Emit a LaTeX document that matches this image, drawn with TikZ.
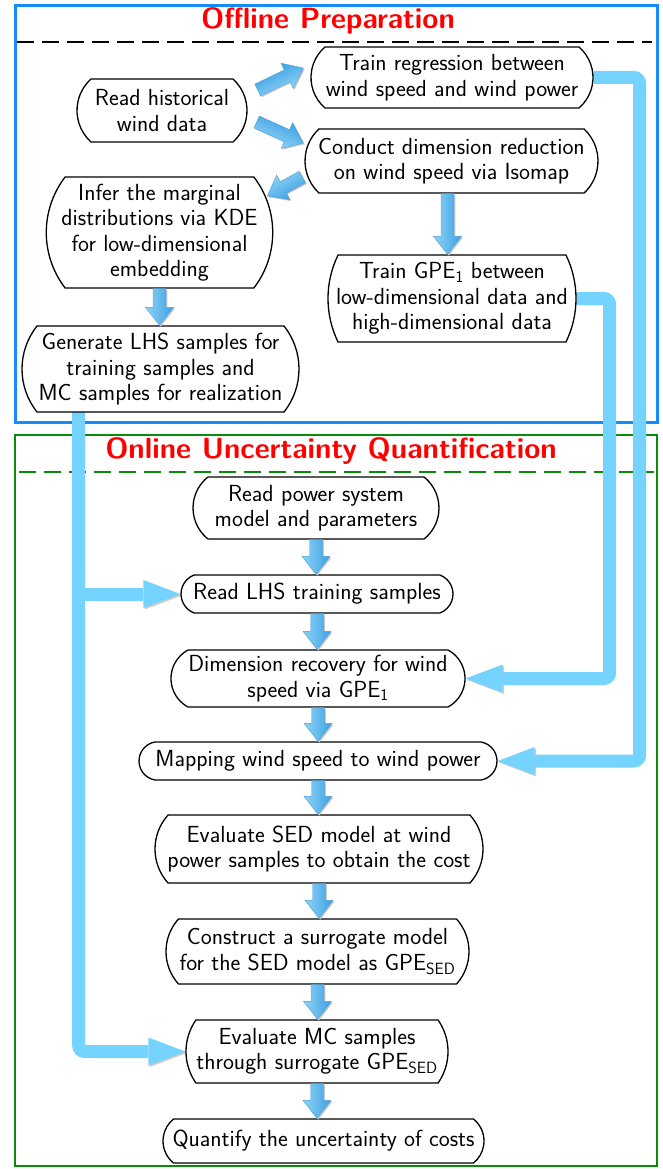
\documentclass[tikz,border=0pt]{standalone}
\usetikzlibrary{shapes.misc,arrows.meta,calc}
\definecolor{frameblue}{RGB}{20,140,250}
\definecolor{framegreen}{RGB}{10,140,10}
\definecolor{lineblue}{RGB}{117,211,255}
\definecolor{arrlight}{RGB}{140,212,246}
\definecolor{arrdark}{RGB}{62,160,226}
\definecolor{arredge}{RGB}{80,160,215}
\definecolor{titlered}{RGB}{255,0,0}
\pgfdeclarelayer{bg}\pgfdeclarelayer{mid}\pgfsetlayers{bg,mid,main}

\newcommand\fatarrow[2]{%
  \path let \p1=(#1), \p2=(#2), \n1={atan2(\y2-\y1,\x2-\x1)}, \n2={veclen(\x2-\x1,\y2-\y1)} in
    \pgfextra{\xdef\faang{\n1}\xdef\falen{\n2}\xdef\fax{\x1}\xdef\fay{\y1}};
  \begin{scope}[transform canvas={shift={({\fax+1.3pt},{\fay-1.3pt})},rotate=\faang}]
    \fill[black!22] (0,-6.5) -- ({\falen-18},-6.5) -- ({\falen-18},-14) -- (\falen,0) -- ({\falen-18},14) -- ({\falen-18},6.5) -- (0,6.5) -- cycle;
  \end{scope}
  \begin{scope}[transform canvas={shift={(\fax,\fay)},rotate=\faang}]
    \shade[top color=arrdark,bottom color=arrlight,draw=arredge,line width=0.4pt] (0,-6.5) -- ({\falen-18},-6.5) -- ({\falen-18},-14) -- (\falen,0) -- ({\falen-18},14) -- ({\falen-18},6.5) -- (0,6.5) -- cycle;
  \end{scope}}

\tikzset{
  box/.style={rounded rectangle, rounded rectangle arc length=#1, draw=black, line width=1.3pt,
    fill=white, align=center, inner xsep=1pt, inner ysep=2pt, font=\sffamily\fontsize{23.3}{25.5}\selectfont},
  box/.default=90,
  titletext/.style={text=titlered, font=\sffamily\bfseries\fontsize{29.2}{32}\selectfont, inner sep=0pt},
  conn/.style={line width=13pt, draw=lineblue, rounded corners=6pt,
    -{Triangle[length=37pt,width=28pt,line width=0pt]},
    preaction={draw=black!20, transform canvas={shift={(1.5pt,-1.5pt)}}}}
}

\begin{document}
\begin{tikzpicture}[x=1pt,y=1pt]
\useasboundingbox (0,0) rectangle (663,-1169);

% frames
\begin{pgfonlayer}{bg}
\draw[frameblue, line width=3pt] (15,-6) rectangle (657,-422);
\draw[black, line width=2.5pt, dash pattern=on 17pt off 8pt] (17,-42) -- (652,-42);
\draw[framegreen, line width=2.5pt] (15,-435) rectangle (657,-1166);
\draw[framegreen, line width=2pt, dash pattern=on 17pt off 8pt] (19,-472) -- (654,-472);
\end{pgfonlayer}

\node[titletext] (t1) at (328,-21) {Offline Preparation};
\node[titletext] (t2) at (331,-451) {Online Uncertainty Quantification};

% offline nodes
\node[box=96, minimum width=172pt, minimum height=63pt] (n1) at (162,-110.5) {Read historical\\wind data};
\node[box=99, minimum width=284pt, minimum height=61pt] (n2) at (452,-77.5) {Train regression between\\wind speed and wind power};
\node[box=94, minimum width=295pt, minimum height=64pt] (n3) at (451.5,-161) {Conduct dimension reduction\\on wind speed via Isomap};
\node[box=75, minimum width=209pt, minimum height=111pt] (n4) at (159.5,-232.5) {Infer the marginal\\distributions via KDE\\for low-dimensional\\embedding};
\node[box=52, minimum width=250pt, minimum height=87pt] (n5) at (452,-298.5) {Train GPE\textsubscript{1} between\\low-dimensional data and\\high-dimensional data};
\node[box=77, minimum width=279pt, minimum height=86pt] (n6) at (160.5,-369) {Generate LHS samples for\\training samples and\\MC samples for realization};

% online nodes
\node[box=103, minimum width=248pt, minimum height=62pt] (n7) at (316,-508) {Read power system\\model and parameters};
\node[box=138, minimum width=274pt, minimum height=38pt] (n8) at (317,-594) {Read LHS training samples};
\node[box=123, minimum width=296pt, minimum height=57pt] (n9) at (318,-678.5) {Dimension recovery for wind\\speed via GPE\textsubscript{1}};
\node[box=160, minimum width=360pt, minimum height=38pt] (n10) at (318,-761) {Mapping wind speed to wind power};
\node[box=84, minimum width=330pt, minimum height=68pt] (n11) at (319,-849) {Evaluate SED model at wind\\power samples to obtain the cost};
\node[box=84, minimum width=305pt, minimum height=65pt] (n12) at (317.5,-951.5) {Construct a surrogate model\\for the SED model as GPE\textsubscript{SED}};
\node[box=70, minimum width=264pt, minimum height=63pt] (n13) at (317,-1051.5) {Evaluate MC samples\\through surrogate GPE\textsubscript{SED}};
\node[box=102, minimum width=323pt, minimum height=44pt] (n14) at (323.5,-1141) {Quantify the uncertainty of costs};

% thick connectors
\begin{pgfonlayer}{mid}
\draw[conn] (n2.east) -- ++(46,0) |- (n10.east);
\draw[conn] (n5.east) -- ++(33,0) |- (n9.east);
\coordinate (lstart) at ($(n6.south west)+(42,6)$);
\draw[conn] (lstart) |- (n13.west);
\draw[conn] (lstart |- n8.west) -- (n8.west);
\end{pgfonlayer}

% fat arrows
\fatarrow{$(n1.east)+(10,20.5)$}{$(n2.west)+(-7,9.5)$}
\fatarrow{$(n1.east)+(9,-11.5)$}{$(n3.west)+(-1,18)$}
\fatarrow{$(n3.west)+(-2,-16)$}{$(n4.east)+(-6,36.5)$}
\fatarrow{$(n3.south)+(-4,0)$}{$(n3.south |- n5.north)+(-4,0)$}
\fatarrow{n4.south}{n4.south |- n6.north}
\fatarrow{n7.south}{n7.south |- n8.north}
\fatarrow{n8.south}{n8.south |- n9.north}
\fatarrow{n9.south}{n9.south |- n10.north}
\fatarrow{n10.south}{n10.south |- n11.north}
\fatarrow{n11.south}{n11.south |- n12.north}
\fatarrow{n12.south}{n12.south |- n13.north}
\fatarrow{n13.south}{n13.south |- n14.north}
\end{tikzpicture}
\end{document}
